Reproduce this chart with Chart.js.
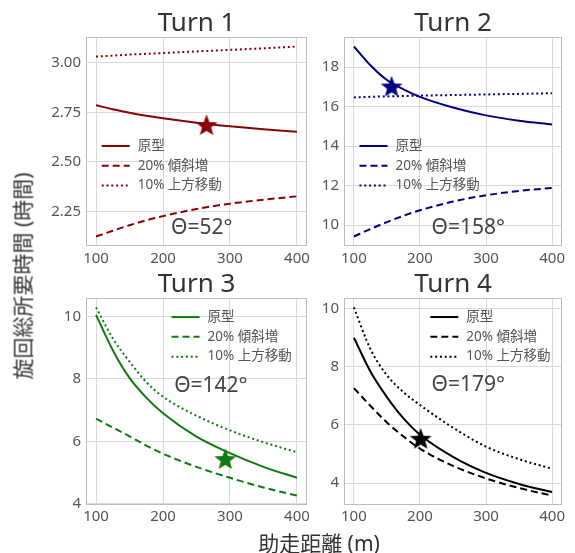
<!DOCTYPE html>
<html><head><meta charset="utf-8">
<script src="https://cdn.jsdelivr.net/npm/chart.js@4.4.1/dist/chart.umd.min.js"></script>
<style>
body{margin:0;background:#fff;width:575px;height:553px;position:relative;overflow:hidden;font-family:"Noto Sans","Noto Sans CJK JP",sans-serif;}
canvas{position:absolute;}
.lbl{position:absolute;color:#333;font-size:21px;white-space:nowrap;line-height:1;}
#ylab{left:23px;top:276px;transform:translate(-50%,-50%) rotate(-90deg);}
#xlab{left:319px;top:543px;transform:translate(-50%,-50%);}
</style></head><body>
<canvas id="c1" width="284" height="275" style="left:36px;top:0px"></canvas>
<canvas id="c2" width="255" height="275" style="left:320px;top:0px"></canvas>
<canvas id="c3" width="284" height="292" style="left:36px;top:261px"></canvas>
<canvas id="c4" width="255" height="292" style="left:320px;top:261px"></canvas>
<div id="ylab" class="lbl">旋回総所要時間 (時間)</div>
<div id="xlab" class="lbl">助走距離 (m)</div>
<script>
// ---------- data ----------
const distances = [100, 125, 150, 175, 200, 250, 300, 350, 400];
const xTicks = [100, 200, 300, 400];
const seriesLabels = ['原型', '20% 傾斜増', '10% 上方移動'];
const panelTitles = ['Turn 1', 'Turn 2', 'Turn 3', 'Turn 4'];
const thetaLabels = ['Θ=52°', 'Θ=158°', 'Θ=142°', 'Θ=179°'];

const turn1Base  = [2.786, 2.766, 2.748, 2.733, 2.720, 2.698, 2.680, 2.665, 2.652];
const turn1Slope = [2.123, 2.152, 2.180, 2.205, 2.226, 2.262, 2.289, 2.309, 2.326];
const turn1Shift = [3.032, 3.037, 3.042, 3.046, 3.050, 3.058, 3.066, 3.074, 3.083];
const turn1Star  = [265, 2.686];
const turn1YTicks = [2.25, 2.50, 2.75, 3.00];

const turn2Base  = [19.05, 18.10, 17.35, 16.88, 16.50, 15.96, 15.56, 15.29, 15.10];
const turn2Slope = [9.42, 9.80, 10.15, 10.47, 10.75, 11.19, 11.51, 11.73, 11.88];
const turn2Shift = [16.47, 16.50, 16.52, 16.54, 16.56, 16.59, 16.62, 16.65, 16.68];
const turn2Star  = [157, 17.02];
const turn2YTicks = [10, 12, 14, 16, 18];

const turn3Base  = [10.05, 8.92, 8.03, 7.40, 6.90, 6.15, 5.62, 5.18, 4.83];
const turn3Slope = [6.73, 6.44, 6.16, 5.86, 5.60, 5.18, 4.83, 4.52, 4.26];
const turn3Shift = [10.29, 9.30, 8.55, 7.90, 7.43, 6.82, 6.35, 5.97, 5.65];
const turn3Star  = [293, 5.43];
const turn3YTicks = [4, 6, 8, 10];

const turn4Base  = [8.99, 7.83, 6.95, 6.22, 5.66, 4.90, 4.35, 3.97, 3.69];
const turn4Slope = [7.26, 6.65, 6.08, 5.60, 5.18, 4.59, 4.16, 3.83, 3.57];
const turn4Shift = [10.03, 8.60, 7.70, 7.12, 6.68, 5.90, 5.25, 4.82, 4.49];
const turn4Star  = [201, 5.52];
const turn4YTicks = [4, 6, 8, 10];

// ---------- panel setup (styles / layout) ----------
const FONT = '"Noto Sans","Noto Sans CJK JP",sans-serif';
const panels = [
  {id:'c1', color:'#8b0000', series:[turn1Base,turn1Slope,turn1Shift], star:turn1Star, yTicks:turn1YTicks, dec:2,
   yW:46, padL:4, padR:9, xH:29, padB:0, xPad:4, thetaPos:[0.524,0.914], legendPos:[0.071,0.5215]},
  {id:'c2', color:'#000080', series:[turn2Base,turn2Slope,turn2Shift], star:turn2Star, yTicks:turn2YTicks, dec:0,
   yW:22, padL:2, padR:6, xH:29, padB:0, xPad:4, thetaPos:[0.57,0.914], legendPos:[0.071,0.5215]},
  {id:'c3', color:'#107a10', series:[turn3Base,turn3Slope,turn3Shift], star:turn3Star, yTicks:turn3YTicks, dec:0,
   yW:46, padL:4, padR:9, xH:26, padB:22, xPad:3, thetaPos:[0.565,0.425], legendPos:[0.387,0.092]},
  {id:'c4', color:'#000000', series:[turn4Base,turn4Slope,turn4Shift], star:turn4Star, yTicks:turn4YTicks, dec:0,
   yW:22, padL:2, padR:6, xH:26, padB:22, xPad:3, thetaPos:[0.57,0.42], legendPos:[0.396,0.092]}
];
const dashes = [[], [7,4], [2,2.8]];

function starCanvas(color, size) {
  const c = document.createElement('canvas');
  c.width = size; c.height = size;
  const g = c.getContext('2d');
  const R = size/2 - 0.5, r = R*0.42, cx = size/2, cy = size/2 + 0.8;
  g.beginPath();
  for (let i = 0; i < 10; i++) {
    const ang = -Math.PI/2 + i*Math.PI/5;
    const rad = i % 2 === 0 ? R : r;
    const px = cx + rad*Math.cos(ang), py = cy + rad*Math.sin(ang);
    i === 0 ? g.moveTo(px, py) : g.lineTo(px, py);
  }
  g.closePath();
  g.fillStyle = color; g.fill();
  return c;
}

const decor = {
  id: 'decor',
  afterDatasetsDraw(chart, args, opts) {
    const {ctx, chartArea: a} = chart;
    const w = a.right - a.left, h = a.bottom - a.top;
    ctx.save();
    ctx.strokeStyle = '#bdbdbd'; ctx.lineWidth = 1; ctx.setLineDash([]);
    ctx.strokeRect(a.left + 0.5, a.top + 0.5, w - 1, h - 1);
    ctx.fillStyle = '#444';
    ctx.font = '21px ' + FONT;
    ctx.textAlign = 'center'; ctx.textBaseline = 'middle';
    ctx.fillText(opts.theta, a.left + opts.thetaPos[0]*w, a.top + opts.thetaPos[1]*h);
    const x0 = a.left + opts.legendPos[0]*w;
    let y = a.top + opts.legendPos[1]*h;
    ctx.font = '13.5px ' + FONT;
    ctx.textAlign = 'left';
    chart.data.datasets.forEach(ds => {
      if (ds.isStar) return;
      ctx.strokeStyle = ds.borderColor; ctx.lineWidth = ds.borderWidth;
      ctx.setLineDash(ds.borderDash || []);
      ctx.beginPath(); ctx.moveTo(x0, y); ctx.lineTo(x0 + 28, y); ctx.stroke();
      ctx.setLineDash([]);
      ctx.fillStyle = '#555';
      ctx.fillText(ds.label, x0 + 36, y);
      y += 19.8;
    });
    ctx.restore();
  }
};

panels.forEach((p, idx) => {
  const all = [].concat(...p.series);
  const mn = Math.min(...all), mx = Math.max(...all), pad = (mx - mn)*0.05;
  const xr = distances[distances.length-1] - distances[0];
  const datasets = p.series.map((arr, i) => ({
    label: seriesLabels[i],
    data: distances.map((x, j) => ({x, y: arr[j]})),
    borderColor: p.color, backgroundColor: p.color,
    borderWidth: 2, borderDash: dashes[i],
    pointRadius: 0, cubicInterpolationMode: 'monotone', fill: false
  }));
  datasets.push({
    label: 'star', isStar: true, type: 'line', showLine: false,
    data: [{x: p.star[0], y: p.star[1]}],
    pointStyle: starCanvas(p.color, 24), pointRadius: 12, order: -1
  });
  new Chart(document.getElementById(p.id), {
    type: 'line',
    data: {datasets},
    options: {
      responsive: false, animation: false, events: [],
      layout: {padding: {left: p.padL, right: p.padR, top: 0, bottom: p.padB}},
      scales: {
        x: {
          type: 'linear', min: distances[0] - xr*0.05, max: distances[distances.length-1] + xr*0.05,
          afterBuildTicks: ax => { ax.ticks = xTicks.map(v => ({value: v})); },
          afterFit: s => { s.height = p.xH; },
          grid: {color: '#dadada', drawTicks: false, lineWidth: 1},
          border: {display: false},
          ticks: {padding: p.xPad, color: '#555', font: {size: 15, family: FONT}, maxRotation: 0, autoSkip: false,
                  callback: v => String(v)}
        },
        y: {
          type: 'linear', min: mn - pad, max: mx + pad,
          afterBuildTicks: ax => { ax.ticks = p.yTicks.map(v => ({value: v})); },
          afterFit: s => { s.width = p.yW; },
          grid: {color: '#dadada', drawTicks: false, lineWidth: 1},
          border: {display: false},
          ticks: {padding: 5, color: '#555', font: {size: 15, family: FONT}, autoSkip: false,
                  callback: v => Number(v).toFixed(p.dec)}
        }
      },
      plugins: {
        legend: {display: false},
        tooltip: {enabled: false},
        title: {display: true, text: panelTitles[idx], fullSize: false, color: '#333',
                font: {size: 26, family: FONT, weight: 'normal', lineHeight: 1},
                padding: {top: 11, bottom: 0}},
        decor: {theta: thetaLabels[idx], thetaPos: p.thetaPos, legendPos: p.legendPos}
      }
    },
    plugins: [decor]
  });
});
</script>
</body></html>
